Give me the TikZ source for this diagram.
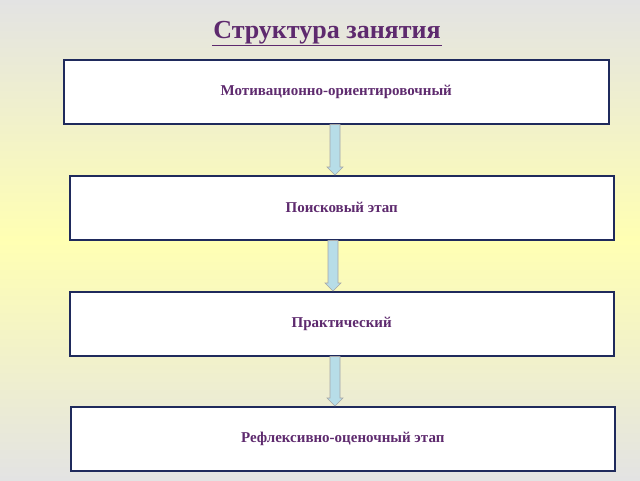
\documentclass[tikz,border=0pt]{standalone}
\usepackage{fontspec}
\setmainfont{Liberation Serif}
\usetikzlibrary{calc}
\definecolor{txt}{HTML}{5E2A6E}
\definecolor{bord}{HTML}{1F2A5C}
\definecolor{shaft}{HTML}{B7DDE8}
\begin{document}
\begin{tikzpicture}[x=1pt,y=-1pt,
  stagebox/.style={draw=bord,line width=1.5pt,fill=white,minimum width=544pt,minimum height=64pt,anchor=north west,font=\bfseries\fontsize{15}{18}\selectfont,text=txt,inner sep=0pt},
  downarr/.style={draw=gray!70,fill=shaft,line width=0.6pt}]
\useasboundingbox (0,0) rectangle (640,480);
\shade[top color=gray!22,bottom color=yellow!30!white] (0,0) rectangle (640,240);
\shade[top color=yellow!30!white,bottom color=gray!22] (0,240) rectangle (640,480);
\node[font=\bfseries\fontsize{26}{30}\selectfont,text=txt,inner sep=1pt] (title) at (327,33) {Структура занятия};
\draw[txt,line width=1.5pt] (title.south west) -- (title.south east);
\node[stagebox,minimum width=545pt] (b1) at (63,59) {Мотивационно-ориентировочный};
\node[stagebox] (b2) at (69,175) {Поисковый этап};
\node[stagebox] (b3) at (69,291) {Практический};
\node[stagebox] (b4) at (70,406) {Рефлексивно-оценочный этап};
\foreach \a/\b/\x in {b1/b2/335,b2/b3/333,b3/b4/335}{
  \path (\a.south) coordinate (s) (\b.north) coordinate (e);
  \draw[downarr] (\x-5,0 |- s) -- (\x+5,0 |- s) -- ($(\x+5,0 |- e)+(0,-8)$) -- ($(\x+8,0 |- e)+(0,-8)$) -- (\x,0 |- e) -- ($(\x-8,0 |- e)+(0,-8)$) -- ($(\x-5,0 |- e)+(0,-8)$) -- cycle;
}
\end{tikzpicture}
\end{document}
